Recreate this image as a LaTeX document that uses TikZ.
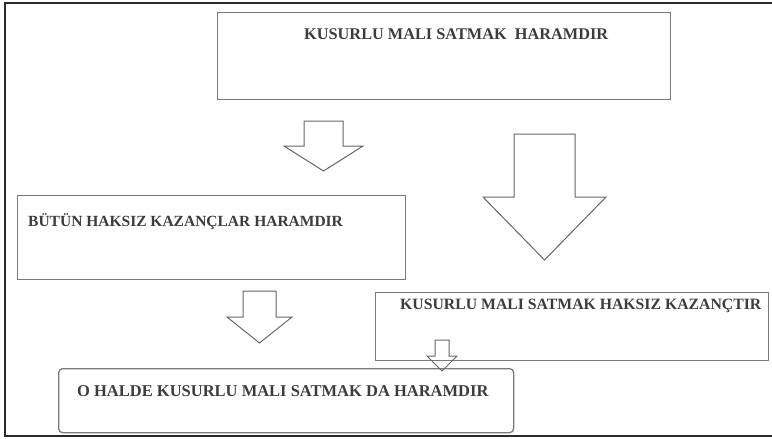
\documentclass[tikz,border=0pt]{standalone}
\usepackage{fontspec}
\setmainfont{Liberation Serif}
\definecolor{boxgray}{HTML}{7A7A7A}
\definecolor{arrowgray}{HTML}{666666}
\definecolor{txtgray}{HTML}{3C3C3C}
\definecolor{framegray}{HTML}{2A2A2A}
\tikzset{
  box/.style={draw=boxgray, line width=1.3pt, rectangle, inner sep=0pt, anchor=north west},
  roundbox/.style={box, rounded corners=4pt},
  blockarrow/.style={draw=arrowgray, line width=1pt, line join=miter},
  lbl/.style={anchor=base west, inner sep=0pt, text=txtgray, font=\bfseries},
  frame/.style={draw=framegray, line width=1.5pt}
}
\begin{document}
\begin{tikzpicture}[x=1pt, y=-1pt]
\useasboundingbox (0,0) rectangle (772,439);
% outer frame (right side outside the picture)
\draw[frame] (772,3) -- (5,3) -- (5,436) -- (772,436);
% boxes
\node[box, minimum width=453pt, minimum height=87pt] (top) at (217,12) {};
\node[box, minimum width=388pt, minimum height=84pt] (b2) at (17,195) {};
\node[box, minimum width=393pt, minimum height=68pt] (b3) at (375,292) {};
\node[roundbox, minimum width=455pt, minimum height=64pt] (b4) at (58,368) {};
% texts
\node[lbl, font=\bfseries\fontsize{16.3}{20}\selectfont] (t1) at (304,39) {KUSURLU MALI SATMAK\ \ HARAMDIR};
\node[lbl, font=\bfseries\fontsize{15.5}{18}\selectfont] (t2) at (28,226.7) {BÜTÜN HAKSIZ KAZANÇLAR HARAMDIR};
\node[lbl, font=\bfseries\fontsize{15.75}{18}\selectfont] (t3) at (400,309) {KUSURLU MALI SATMAK HAKSIZ KAZANÇTIR};
\node[lbl, font=\bfseries\fontsize{16.5}{19}\selectfont] (t4) at (77,396.7) {O HALDE KUSURLU MALI SATMAK DA HARAMDIR};
% block arrows
\draw[blockarrow] (304,121) -- (343,121) -- (343,146) -- (363,146) -- (323.5,171) -- (284,146) -- (304,146) -- cycle;
\draw[blockarrow] (514,134) -- (575,134) -- (575,197) -- (606,197) -- (544.5,260) -- (483,197) -- (514,197) -- cycle;
\draw[blockarrow] (243,291) -- (276,291) -- (276,317) -- (292,317) -- (259.5,343) -- (227,317) -- (243,317) -- cycle;
\draw[blockarrow] (435,340) -- (449,340) -- (449,356) -- (457,356) -- (442,371) -- (427,356) -- (435,356) -- cycle;
\end{tikzpicture}
\end{document}
